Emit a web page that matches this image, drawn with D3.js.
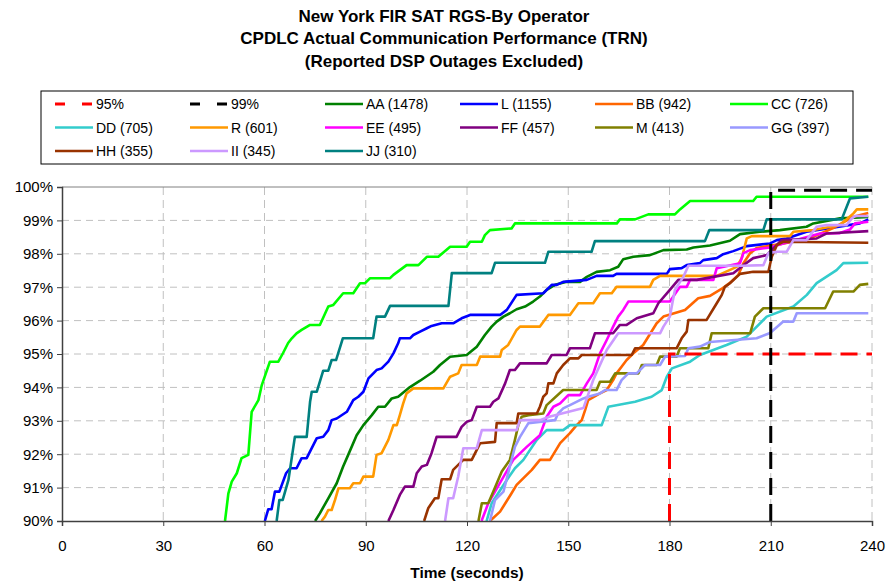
<!DOCTYPE html>
<html>
<head>
<meta charset="utf-8">
<script src="https://cdn.jsdelivr.net/npm/d3@7"></script>
<style>
  body, html { margin: 0; padding: 0; background: #fff; }
  svg { display: block; font-family: "Liberation Sans", Arial, sans-serif; }
</style>
</head>
<body>
<svg id="chart" width="887" height="585"></svg>
<script>
// ---- data (time in seconds, cumulative percent) ----
var titleLines = ["New York FIR SAT RGS-By Operator",
                  "CPDLC Actual Communication Performance (TRN)",
                  "(Reported DSP Outages Excluded)"];
var xTicks = [0, 30, 60, 90, 120, 150, 180, 210, 240];
var yTicks = [90, 91, 92, 93, 94, 95, 96, 97, 98, 99, 100];

var ref95 = [[180, 90], [180, 95], [240, 95]];
var ref99 = [[210, 90], [210, 99.9], [240, 99.9]];

var AA = [[75.0,90.0],[76.4,90.23],[78.9,90.68],[81.4,91.13],[83.3,91.63],[84.8,91.98],[87.3,92.57],[89.3,92.87],
  [91.8,93.17],[93.7,93.42],[95.7,93.42],[97.7,93.67],[99.6,93.72],[103.1,94.01],[106.1,94.2],[110.0,94.47],
  [112.0,94.67],[115.0,94.92],[119.9,94.97],[122.9,95.22],[125.3,95.57],[127.3,95.82],[128.8,95.97],[130.8,96.12],
  [132.7,96.22],[134.7,96.34],[137.2,96.42],[139.6,96.57],[141.6,96.72],[143.6,96.92],[146.1,97.07],[149.5,97.16],
  [153.5,97.16],[155.5,97.31],[158.4,97.46],[162.4,97.51],[164.8,97.61],[166.3,97.84],[169.3,97.91],[174.2,97.96],
  [178.2,98.11],[185.1,98.13],[187.1,98.19],[192.0,98.25],[197.9,98.39],[200.9,98.59],[206.8,98.66],[212.7,98.71],
  [220.6,98.81],[222.6,98.91],[230.5,99.06],[238.9,99.1]];
var L = [[60.1,90.0],[61.1,90.35],[62.1,90.35],[63.1,90.88],[64.4,90.88],[66.4,91.43],[67.6,91.58],[69.5,91.58],
  [71.0,91.88],[72.5,91.88],[75.5,92.48],[77.4,92.52],[78.9,92.72],[79.9,93.02],[81.4,93.07],[84.4,93.27],
  [86.3,93.62],[87.8,93.72],[89.3,93.87],[90.8,94.27],[93.2,94.52],[94.7,94.57],[96.7,94.77],[98.2,95.02],
  [99.6,95.32],[100.1,95.47],[103.1,95.47],[104.1,95.57],[106.1,95.67],[108.1,95.77],[109.5,95.84],[112.5,95.92],
  [115.9,95.92],[118.4,96.07],[120.9,96.17],[129.8,96.17],[131.8,96.32],[134.7,96.77],[142.6,96.82],[145.1,97.07],
  [146.6,97.07],[148.5,97.16],[155.5,97.22],[158.4,97.34],[163.3,97.34],[164.3,97.4],[179.2,97.4],[180.1,97.54],
  [183.6,97.57],[185.1,97.66],[189.0,97.72],[190.0,97.81],[194.0,97.87],[195.9,97.99],[198.9,98.08],[202.9,98.23],
  [209.8,98.31],[211.8,98.41],[214.7,98.46],[220.6,98.66],[236.4,98.91],[238.9,99.03]];
var BB = [[126.8,90.0],[129.8,90.28],[133.2,90.83],[134.7,91.08],[139.2,91.53],[141.6,91.83],[144.6,91.83],
  [147.6,92.33],[150.5,92.63],[152.5,92.87],[154.0,93.02],[155.0,93.32],[155.9,93.62],[159.4,93.82],[161.4,93.92],
  [163.3,94.22],[164.3,94.42],[165.8,94.62],[167.3,94.82],[169.3,95.02],[172.2,95.27],[176.2,95.92],[178.2,96.12],
  [184.6,96.32],[188.5,96.67],[192.0,96.74],[195.9,96.98],[197.9,97.13],[200.4,97.37],[201.9,97.72],[203.9,98.02],
  [205.8,98.17],[212.7,98.29],[218.7,98.41],[222.6,98.51],[228.5,98.77],[234.5,99.11],[238.9,99.22]];
var CC = [[48.3,90.0],[49.3,90.83],[50.3,91.18],[51.8,91.43],[53.2,91.88],[55.2,91.98],[56.2,93.27],[58.2,93.62],
  [59.2,94.07],[61.6,94.77],[64.1,94.77],[65.5,95.03],[67.0,95.33],[68.1,95.47],[69.5,95.62],[71.0,95.72],
  [73.5,95.87],[76.4,95.87],[78.9,96.42],[80.4,96.47],[83.3,96.82],[86.3,96.82],[88.3,97.12],[89.8,97.12],
  [91.3,97.27],[97.2,97.27],[98.2,97.37],[100.1,97.51],[102.1,97.66],[105.6,97.66],[108.1,97.91],[111.5,97.91],
  [115.0,98.21],[119.9,98.21],[120.9,98.36],[124.4,98.36],[125.3,98.56],[126.8,98.71],[133.2,98.76],[134.2,98.91],
  [164.4,98.91],[165.3,99.03],[169.8,99.03],[173.7,99.18],[181.6,99.18],[183.1,99.33],[186.1,99.58],[204.8,99.58],
  [205.8,99.71],[238.9,99.71]];
var DD = [[125.8,90.0],[127.3,90.53],[131.8,91.23],[134.2,91.58],[136.7,91.83],[140.7,92.43],[143.6,92.72],
  [148.5,92.72],[150.5,92.87],[159.9,92.87],[161.9,93.42],[169.8,93.57],[174.7,93.72],[177.7,93.92],[179.2,94.32],
  [180.7,94.57],[186.1,94.77],[189.0,94.97],[196.9,95.27],[202.9,95.52],[208.8,96.12],[216.7,96.42],[220.7,96.77],
  [223.6,97.12],[229.5,97.51],[231.5,97.72],[238.9,97.73]];
var R = [[76.9,90.0],[77.9,90.13],[78.9,90.33],[79.9,90.33],[80.9,90.63],[81.9,90.98],[85.3,90.98],[86.3,91.13],
  [88.3,91.13],[89.3,91.33],[92.2,91.33],[93.2,91.98],[94.7,92.03],[96.7,92.43],[98.2,92.87],[99.2,92.87],
  [100.1,93.17],[101.1,93.52],[102.1,93.82],[104.1,93.97],[113.0,93.97],[115.0,94.32],[117.4,94.42],[118.4,94.67],
  [122.9,94.67],[123.9,94.92],[129.8,94.92],[130.3,95.12],[132.2,95.27],[134.7,95.72],[135.7,95.82],[141.6,95.82],
  [144.1,96.17],[150.5,96.17],[153.0,96.52],[157.4,96.52],[159.4,96.82],[162.9,96.82],[164.3,97.01],[174.2,97.01],
  [175.2,97.22],[177.2,97.34],[194.0,97.34],[199.9,97.61],[201.4,97.87],[202.9,98.46],[204.4,98.53],[215.7,98.53],
  [216.7,98.66],[222.6,98.71],[230.5,98.86],[234.5,99.21],[235.5,99.33],[238.9,99.33]];
var EE = [[124.3,90.0],[126.3,90.53],[128.3,90.88],[133.7,91.83],[137.7,92.22],[141.6,92.57],[143.6,93.12],
  [145.6,93.42],[147.6,93.52],[150.0,93.77],[153.5,93.77],[155.5,94.12],[157.4,94.42],[159.4,95.02],[161.4,95.42],
  [163.3,95.82],[164.8,96.12],[166.3,96.32],[167.8,96.57],[180.1,96.57],[183.1,97.01],[185.1,97.01],[186.1,97.22],
  [193.0,97.22],[194.0,97.57],[200.9,97.72],[201.9,98.02],[203.9,98.11],[209.8,98.19],[213.7,98.31],[224.6,98.61],
  [230.5,98.62],[233.5,98.73],[235.0,98.91],[238.9,98.96]];
var FF = [[96.7,90.0],[98.2,90.33],[100.1,90.78],[101.6,91.03],[104.1,91.03],[105.1,91.43],[106.6,91.63],
  [108.1,91.68],[109.5,92.03],[111.0,92.52],[116.9,92.52],[118.4,92.82],[119.9,92.97],[121.4,93.02],[122.9,93.42],
  [126.8,93.42],[127.8,93.57],[129.3,93.67],[131.3,94.12],[132.7,94.52],[134.2,94.52],[135.7,94.72],[143.6,94.72],
  [145.1,94.97],[149.5,94.97],[150.5,95.17],[156.4,95.17],[157.9,95.62],[163.3,95.62],[165.3,95.87],[167.3,95.87],
  [170.3,96.07],[175.2,96.22],[176.7,96.52],[180.1,96.92],[182.6,97.22],[188.1,97.22],[193.0,97.31],[198.9,97.42],
  [201.9,97.66],[204.8,97.87],[208.8,97.96],[213.2,98.41],[223.6,98.46],[226.6,98.61],[238.9,98.68]];
var M = [[123.4,90.0],[124.4,90.53],[126.3,90.53],[127.8,90.88],[130.3,91.48],[132.7,91.83],[134.2,92.43],
  [135.2,92.87],[136.2,93.12],[138.2,93.17],[142.6,93.22],[143.6,93.47],[148.5,93.92],[158.4,93.92],[159.4,94.17],
  [162.4,94.17],[163.9,94.42],[170.8,94.42],[171.8,94.67],[176.2,94.67],[177.2,94.92],[182.1,94.92],[183.1,95.17],
  [191.5,95.17],[192.5,95.62],[203.9,95.62],[205.3,96.12],[207.8,96.37],[226.1,96.37],[228.5,96.87],[234.5,96.87],
  [236.4,97.07],[238.9,97.1]];
var GG = [[126.8,90.0],[128.3,90.63],[130.8,90.88],[134.2,92.22],[135.7,92.52],[138.2,92.93],[146.1,93.02],
  [147.0,93.22],[148.5,93.37],[150.5,93.47],[154.5,93.67],[155.9,93.72],[159.4,93.82],[160.9,93.92],[164.3,93.92],
  [165.8,94.22],[167.8,94.42],[170.3,94.42],[172.7,94.67],[177.2,94.67],[178.7,94.92],[184.6,94.94],[185.6,95.17],
  [189.0,95.22],[192.0,95.36],[205.8,95.47],[209.8,95.63],[213.7,95.97],[216.7,95.97],[217.7,96.22],[238.9,96.22]];
var HH = [[107.3,90.0],[108.5,90.38],[110.5,90.68],[111.5,90.68],[112.5,91.25],[115.0,91.25],[115.9,91.53],
  [118.9,91.83],[121.4,91.83],[123.9,92.33],[128.3,92.37],[128.8,92.93],[134.7,92.93],[135.2,93.22],[140.7,93.22],
  [141.6,93.42],[142.6,93.72],[143.6,93.82],[144.1,94.12],[145.6,94.12],[146.6,94.42],[148.5,94.67],[150.5,94.87],
  [153.0,94.87],[154.0,94.97],[168.8,94.97],[169.8,95.17],[182.1,95.17],[183.6,95.47],[185.1,95.67],[185.6,96.02],
  [191.0,96.02],[194.0,96.52],[195.5,96.77],[196.4,97.01],[197.9,97.12],[200.9,97.4],[204.8,97.46],[209.3,97.46],
  [210.3,97.91],[211.8,98.26],[213.7,98.36],[238.9,98.33]];
var II = [[113.5,90.0],[114.5,90.68],[115.9,90.68],[117.4,91.33],[118.9,92.18],[122.9,92.18],[124.4,92.72],
  [134.7,92.72],[135.7,93.02],[141.6,93.02],[144.6,93.13],[154.5,93.38],[157.4,94.22],[161.4,95.12],[164.8,95.62],
  [177.2,95.62],[178.2,95.82],[180.1,96.12],[181.6,96.92],[184.1,97.31],[185.6,97.64],[201.9,97.64],[207.8,97.66],
  [209.3,98.02],[211.8,98.06],[214.7,98.06],[216.7,98.41],[220.6,98.41],[223.6,98.81],[226.6,98.86],[232.5,98.86],
  [234.0,99.06],[235.0,99.13],[238.9,99.13]];
var JJ = [[63.6,90.0],[64.4,90.63],[65.4,90.63],[67.1,91.23],[69.0,92.52],[72.5,92.52],[73.5,93.57],[74.0,93.87],
  [75.5,93.87],[77.4,94.5],[78.9,94.5],[79.9,94.82],[81.2,94.82],[83.2,95.47],[92.2,95.47],[93.2,96.12],
  [95.7,96.12],[97.2,96.44],[114.5,96.44],[115.5,97.42],[127.3,97.42],[128.3,97.73],[143.1,97.73],[144.1,98.06],
  [156.9,98.06],[157.9,98.38],[190.5,98.38],[191.8,98.71],[207.8,98.71],[208.8,99.03],[231.0,99.03],[233.5,99.66],
  [238.9,99.71]];

var seriesNames  = ["AA", "L", "BB", "CC", "DD", "R", "EE", "FF", "M", "GG", "HH", "II", "JJ"];
var seriesCounts = [1478, 1155, 942, 726, 705, 601, 495, 457, 413, 397, 355, 345, 310];
var seriesData   = [AA, L, BB, CC, DD, R, EE, FF, M, GG, HH, II, JJ];
var seriesColors = ["#008000", "#0000FF", "#FF6600", "#00FF00", "#33CCCC", "#FF9900", "#FF00FF",
                    "#800080", "#808000", "#9999FF", "#993300", "#CC99FF", "#008080"];

// ---- drawing ----
var svg = d3.select("#chart");
var plotL = 62, plotR = 872, plotT = 187, plotB = 521;

var x = d3.scaleLinear().domain([0, 240]).range([plotL, plotR]);
var y = d3.scaleLinear().domain([90, 100]).range([plotB, plotT]);

// title
svg.append("g").selectAll("text").data(titleLines).join("text")
  .attr("x", 444).attr("y", function(d, i) { return 22 + i * 22.3; })
  .attr("text-anchor", "middle").style("font-size", "17px").style("font-weight", "bold")
  .text(function(d) { return d; });

// gridlines
var grid = svg.append("g");
grid.selectAll(".hg").data(yTicks.filter(function(d) { return d > 90 && d < 100; })).join("line")
  .attr("x1", plotL).attr("x2", plotR).attr("y1", y).attr("y2", y)
  .attr("stroke", "#c0c0c0").attr("stroke-dasharray", "7,5");
grid.selectAll(".vg").data(xTicks.filter(function(d) { return d > 0; })).join("line")
  .attr("x1", x).attr("x2", x).attr("y1", plotT).attr("y2", plotB)
  .attr("stroke", "#c0c0c0").attr("stroke-dasharray", "8,5");
grid.append("line").attr("x1", plotL).attr("x2", plotR).attr("y1", plotT).attr("y2", plotT)
  .attr("stroke", "#808080");

// series
svg.append("clipPath").attr("id", "clip").append("rect")
  .attr("x", plotL).attr("y", plotT - 2).attr("width", plotR - plotL).attr("height", plotB - plotT + 2);

var line = d3.line().x(function(d) { return x(d[0]); }).y(function(d) { return y(d[1]); });
var plot = svg.append("g").attr("clip-path", "url(#clip)");

plot.selectAll(".series").data(seriesData).join("path")
  .attr("d", line).attr("fill", "none")
  .attr("stroke", function(d, i) { return seriesColors[i]; })
  .attr("stroke-width", 2.6).attr("stroke-linejoin", "round");

plot.append("path").datum(ref95).attr("d", line).attr("fill", "none")
  .attr("stroke", "#FF0000").attr("stroke-width", 3).attr("stroke-dasharray", "17,9");
plot.append("path").datum(ref99).attr("d", line).attr("fill", "none")
  .attr("stroke", "#000000").attr("stroke-width", 3).attr("stroke-dasharray", "17,9");

// axes
var yAxis = svg.append("g").attr("transform", "translate(" + plotL + ",0)")
  .call(d3.axisLeft(y).tickValues(yTicks).tickSize(5).tickPadding(4)
    .tickFormat(function(d) { return d + "%"; }));
var xAxis = svg.append("g").attr("transform", "translate(0," + plotB + ")")
  .call(d3.axisBottom(x).tickValues(xTicks).tickSize(5).tickPadding(14));
[xAxis, yAxis].forEach(function(a) {
  a.select(".domain").attr("stroke", "#404040").attr("stroke-width", 1.5);
  a.selectAll(".tick line").attr("stroke", "#404040");
  a.selectAll("text").style("font-size", "15px").style("font-family", "Liberation Sans, Arial, sans-serif")
    .attr("fill", "#000");
});

svg.append("text").attr("x", 467).attr("y", 578).attr("text-anchor", "middle")
  .style("font-size", "15.5px").style("font-weight", "bold").text("Time (seconds)");

// legend
var legendItems = [{label: "95%", color: "#FF0000", dash: true}, {label: "99%", color: "#000000", dash: true}];
seriesNames.forEach(function(n, i) {
  legendItems.push({label: n + " (" + seriesCounts[i] + ")", color: seriesColors[i], dash: false});
});

var lg = svg.append("g");
lg.append("rect").attr("x", 41).attr("y", 91).attr("width", 812).attr("height", 73)
  .attr("fill", "#fff").attr("stroke", "#000");

var item = lg.selectAll(".item").data(legendItems).join("g")
  .attr("transform", function(d, i) {
    return "translate(" + (55 + (i % 6) * 135) + "," + (104 + Math.floor(i / 6) * 23.5) + ")";
  });
item.append("line").attr("x1", 0).attr("x2", 38).attr("y1", 0).attr("y2", 0)
  .attr("stroke", function(d) { return d.color; })
  .attr("stroke-width", function(d) { return d.dash ? 3 : 2.6; })
  .attr("stroke-dasharray", function(d) { return d.dash ? "10,17" : null; });
item.append("text").attr("x", 41).attr("y", 5).style("font-size", "14px")
  .text(function(d) { return d.label; });
</script>
</body>
</html>
